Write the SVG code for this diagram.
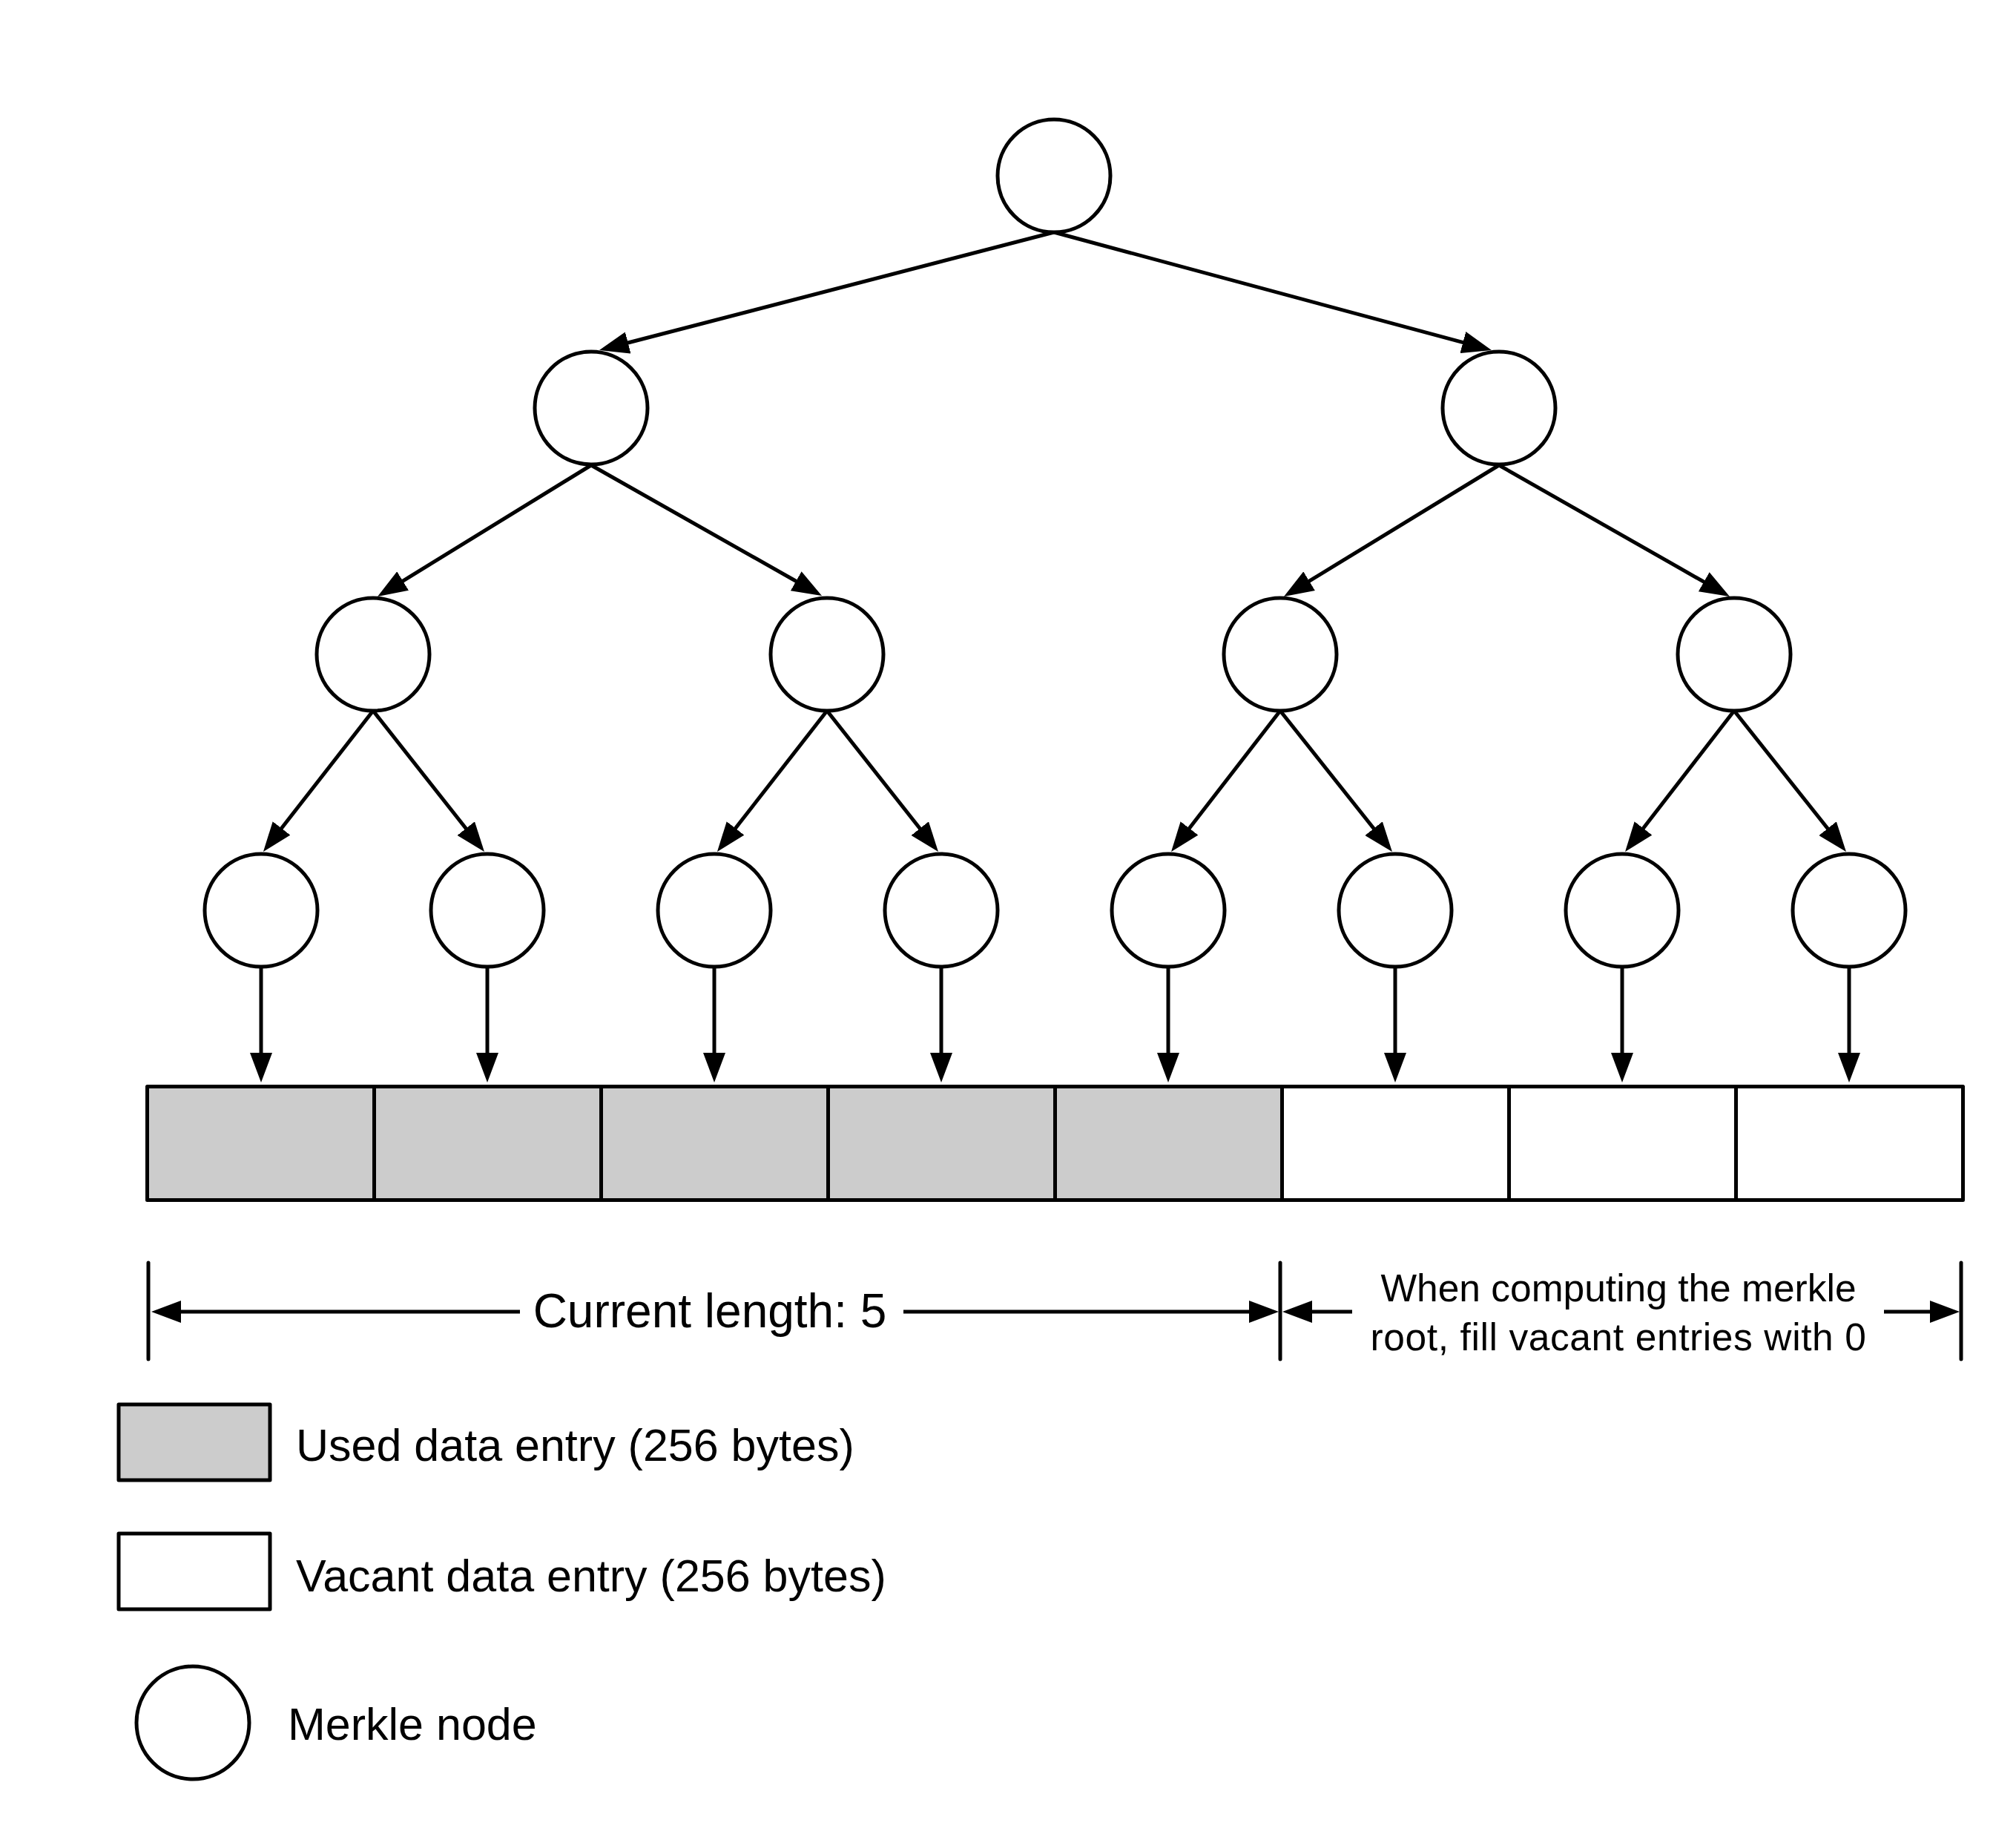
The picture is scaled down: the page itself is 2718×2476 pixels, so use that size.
<svg xmlns="http://www.w3.org/2000/svg" width="2718" height="2476" viewBox="0 0 2718 2476">
  <style>
    .node { fill: #ffffff; stroke: #000000; stroke-width: 5; }
    .used { fill: #cccccc; stroke: #000000; stroke-width: 5; stroke-linejoin: round; }
    .vacant { fill: #ffffff; stroke: #000000; stroke-width: 5; stroke-linejoin: round; }
    .edge { fill: none; stroke: #000000; stroke-width: 5; marker-end: url(#head); }
    .tick { fill: none; stroke: #000000; stroke-width: 5; stroke-linecap: round; }
    .label { font-family: "Liberation Sans", Arial, Helvetica, sans-serif; fill: #000000; }
  </style>
  <defs>
    <!-- solid triangular arrowhead, 40 long x 30 wide; the line stops 30 before the tip -->
    <marker id="head" viewBox="0 0 40 30" refX="10" refY="15" markerWidth="40" markerHeight="30" markerUnits="userSpaceOnUse" orient="auto">
      <path d="M0,0 L40,15 L0,30 Z" fill="#000000"/>
    </marker>
  </defs>

  <rect width="2718" height="2476" fill="#ffffff"/>

  <!-- tree connectors -->
  <g id="connectors">
    <!-- root to level 1 -->
    <line class="edge" x1="1421" y1="313" x2="837" y2="464.5"/>
    <line class="edge" x1="1421" y1="313" x2="1982" y2="464.2"/>
    <!-- level 1 to level 2 -->
    <line class="edge" x1="797" y1="627" x2="534.6" y2="788.3"/>
    <line class="edge" x1="797" y1="627" x2="1081.9" y2="788.2"/>
    <line class="edge" x1="2021" y1="627" x2="1756.6" y2="788.4"/>
    <line class="edge" x1="2021" y1="627" x2="2305.9" y2="789.2"/>
    <!-- level 2 to leaves -->
    <line class="edge" x1="503" y1="958" x2="373.4" y2="1124.3"/>
    <line class="edge" x1="503" y1="958" x2="634.4" y2="1124.5"/>
    <line class="edge" x1="1115" y1="958" x2="985.4" y2="1124.3"/>
    <line class="edge" x1="1115" y1="958" x2="1246.4" y2="1124.5"/>
    <line class="edge" x1="1726" y1="958" x2="1597.4" y2="1124.3"/>
    <line class="edge" x1="1726" y1="958" x2="1858.3" y2="1124.5"/>
    <line class="edge" x1="2338" y1="958" x2="2209.4" y2="1124.3"/>
    <line class="edge" x1="2338" y1="958" x2="2470.3" y2="1124.5"/>
    <!-- leaves to data entries -->
    <line class="edge" x1="352" y1="1303" x2="352" y2="1429"/>
    <line class="edge" x1="657" y1="1303" x2="657" y2="1429"/>
    <line class="edge" x1="963" y1="1303" x2="963" y2="1429"/>
    <line class="edge" x1="1269" y1="1303" x2="1269" y2="1429"/>
    <line class="edge" x1="1575" y1="1303" x2="1575" y2="1429"/>
    <line class="edge" x1="1881" y1="1303" x2="1881" y2="1429"/>
    <line class="edge" x1="2187" y1="1303" x2="2187" y2="1429"/>
    <line class="edge" x1="2493" y1="1303" x2="2493" y2="1429"/>
  </g>

  <!-- merkle nodes -->
  <g id="root"><circle class="node" cx="1421" cy="237" r="76"/></g>
  <g id="n1-left"><circle class="node" cx="797" cy="550" r="76"/></g>
  <g id="n1-right"><circle class="node" cx="2021" cy="550" r="76"/></g>
  <g id="n2-a"><circle class="node" cx="503" cy="882" r="76"/></g>
  <g id="n2-b"><circle class="node" cx="1115" cy="882" r="76"/></g>
  <g id="n2-c"><circle class="node" cx="1726" cy="882" r="76"/></g>
  <g id="n2-d"><circle class="node" cx="2338" cy="882" r="76"/></g>
  <g id="leaf-1"><circle class="node" cx="352" cy="1227" r="76"/></g>
  <g id="leaf-2"><circle class="node" cx="657" cy="1227" r="76"/></g>
  <g id="leaf-3"><circle class="node" cx="963" cy="1227" r="76"/></g>
  <g id="leaf-4"><circle class="node" cx="1269" cy="1227" r="76"/></g>
  <g id="leaf-5"><circle class="node" cx="1575" cy="1227" r="76"/></g>
  <g id="leaf-6"><circle class="node" cx="1881" cy="1227" r="76"/></g>
  <g id="leaf-7"><circle class="node" cx="2187" cy="1227" r="76"/></g>
  <g id="leaf-8"><circle class="node" cx="2493" cy="1227" r="76"/></g>

  <!-- data entries -->
  <g id="entries">
    <rect class="used" x="198.5" y="1464.5" width="306" height="153"/>
    <rect class="used" x="504.5" y="1464.5" width="306" height="153"/>
    <rect class="used" x="810.5" y="1464.5" width="306" height="153"/>
    <rect class="used" x="1116.5" y="1464.5" width="306" height="153"/>
    <rect class="used" x="1422.5" y="1464.5" width="306" height="153"/>
    <rect class="vacant" x="1728.5" y="1464.5" width="306" height="153"/>
    <rect class="vacant" x="2034.5" y="1464.5" width="306" height="153"/>
    <rect class="vacant" x="2340.5" y="1464.5" width="306" height="153"/>
  </g>

  <!-- length dimensions -->
  <g id="dimensions">
    <line class="tick" x1="200" y1="1702" x2="200" y2="1832"/>
    <line class="tick" x1="1726" y1="1702" x2="1726" y2="1832"/>
    <line class="tick" x1="2644" y1="1702" x2="2644" y2="1832"/>
    <line class="edge" x1="701" y1="1768" x2="234" y2="1768"/>
    <line class="edge" x1="1218" y1="1768" x2="1694" y2="1768"/>
    <line class="edge" x1="1823" y1="1768" x2="1759" y2="1768"/>
    <line class="edge" x1="2540" y1="1768" x2="2612" y2="1768"/>
    <text class="label" x="957" y="1789" font-size="64" text-anchor="middle">Current length: 5</text>
    <text class="label" x="2182" y="1754" font-size="51.5" text-anchor="middle">When computing the merkle</text>
    <text class="label" x="2182" y="1820" font-size="51.5" text-anchor="middle" letter-spacing="0.6">root, fill vacant entries with 0</text>
  </g>

  <!-- legend -->
  <g id="legend-used">
    <rect class="used" x="160" y="1893" width="204" height="102"/>
    <text class="label" x="399" y="1969" font-size="61">Used data entry (256 bytes)</text>
  </g>
  <g id="legend-vacant">
    <rect class="vacant" x="160" y="2067" width="204" height="102"/>
    <text class="label" x="399" y="2145" font-size="61">Vacant data entry (256 bytes)</text>
  </g>
  <g id="legend-node">
    <circle class="node" cx="260" cy="2322" r="76"/>
    <text class="label" x="388" y="2345" font-size="61">Merkle node</text>
  </g>
</svg>
